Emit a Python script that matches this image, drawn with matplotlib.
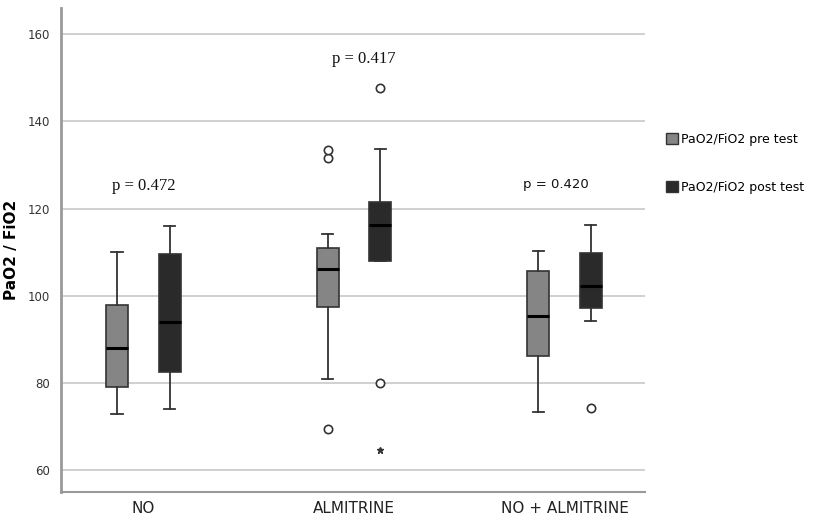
import matplotlib
matplotlib.use("Agg")
import matplotlib.pyplot as plt
from matplotlib.patches import Patch

# --------------------------------------------------------------------------- #
# Data (box-plot summary statistics)
# --------------------------------------------------------------------------- #
groups = ["NO", "ALMITRINE", "NO + ALMITRINE"]
series = ["PaO2/FiO2 pre test", "PaO2/FiO2 post test"]

pre_whislo = [73.0, 80.9, 73.3]
pre_q1 = [79.0, 97.4, 86.1]
pre_med = [88.0, 106.1, 95.3]
pre_q3 = [98.0, 110.9, 105.6]
pre_whishi = [110.0, 114.1, 110.2]
pre_outliers = [[], [69.4, 131.5, 133.3], []]

post_whislo = [74.0, 107.9, 94.2]
post_q1 = [82.5, 107.9, 97.2]
post_med = [94.0, 116.2, 102.2]
post_q3 = [109.5, 121.5, 109.8]
post_whishi = [116.0, 133.6, 116.2]
post_outliers = [[], [80.0, 147.7], [74.2]]
post_extremes = [[], [64.6], []]

p_values = ["p = 0.472", "p = 0.417", "p = 0.420"]
p_heights = [125.2, 154.2, 125.4]

PRE_COLOR = "#858585"
POST_COLOR = "#2a2a2a"
EDGE = "#333333"


def make_stats(lo, q1, med, q3, hi, fliers):
    return [
        {"whislo": lo[i], "q1": q1[i], "med": med[i], "q3": q3[i],
         "whishi": hi[i], "fliers": fliers[i]}
        for i in range(len(lo))
    ]


fig = plt.figure(figsize=(8.16, 5.17), dpi=100)
ax = fig.add_axes([0.075, 0.048, 0.715, 0.937])

offset = 0.125
width = 0.105
positions = list(range(len(groups)))

box_kw = dict(
    widths=width, patch_artist=True, showfliers=True,
    medianprops=dict(color="black", linewidth=2.2),
    whiskerprops=dict(color=EDGE, linewidth=1.3),
    capprops=dict(color=EDGE, linewidth=1.3),
    flierprops=dict(marker="o", markerfacecolor="white", markeredgecolor=EDGE,
                    markersize=6, markeredgewidth=1.2, linestyle="none"),
    capwidths=width * 0.5,
)

pre_stats = make_stats(pre_whislo, pre_q1, pre_med, pre_q3, pre_whishi, pre_outliers)
post_stats = make_stats(post_whislo, post_q1, post_med, post_q3, post_whishi, post_outliers)

b1 = ax.bxp(pre_stats, positions=[p - offset for p in positions], **box_kw)
b2 = ax.bxp(post_stats, positions=[p + offset for p in positions], **box_kw)
for box in b1["boxes"]:
    box.set_facecolor(PRE_COLOR)
    box.set_edgecolor(EDGE)
    box.set_linewidth(1.2)
for box in b2["boxes"]:
    box.set_facecolor(POST_COLOR)
    box.set_edgecolor(EDGE)
    box.set_linewidth(1.2)

# extreme values drawn as stars
for i, vals in enumerate(post_extremes):
    if vals:
        ax.plot([positions[i] + offset] * len(vals), vals, linestyle="none",
                marker="*", color=EDGE, markersize=5)

# p-value annotations (first two in a serif face, last one sans)
p_shift = [0.0, 0.045, -0.043]
for i, (txt, h) in enumerate(zip(p_values, p_heights)):
    fam = ["Liberation Serif"] if i < 2 else ["DejaVu Sans"]
    fs = 12 if i < 2 else 9.5
    ax.text(positions[i] + p_shift[i], h, txt, ha="center",
            va="center", fontsize=fs, family=fam, color="#111111")

ax.set_xlim(-0.39, 2.38)
ax.set_ylim(55, 166)
ax.set_yticks([60, 80, 100, 120, 140, 160])
ax.set_xticks(positions)
ax.set_xticklabels(groups, fontsize=11, color="#222222")
ax.tick_params(axis="y", length=0, labelsize=8.5, labelcolor="#333333", pad=8)
ax.tick_params(axis="x", length=0, pad=6)
ax.set_ylabel("PaO2 / FiO2", fontsize=11, fontweight="bold", labelpad=6)

ax.grid(axis="y", color="#c8c8c8", linewidth=1.2)
ax.set_axisbelow(True)
for side in ["top", "right"]:
    ax.spines[side].set_visible(False)
ax.spines["left"].set_color("#999999")
ax.spines["left"].set_linewidth(2)
ax.spines["bottom"].set_color("#999999")
ax.spines["bottom"].set_linewidth(1.5)

handles = [
    Patch(facecolor=PRE_COLOR, edgecolor=EDGE, label=series[0]),
    Patch(facecolor=POST_COLOR, edgecolor=EDGE, label=series[1]),
]
fig.legend(handles=handles, loc="upper left", bbox_to_anchor=(0.803, 0.765),
           frameon=False, fontsize=9, handlelength=0.9, handleheight=0.9,
           handletextpad=0.3, labelspacing=2.8)

fig.savefig("out.png", dpi=100)
